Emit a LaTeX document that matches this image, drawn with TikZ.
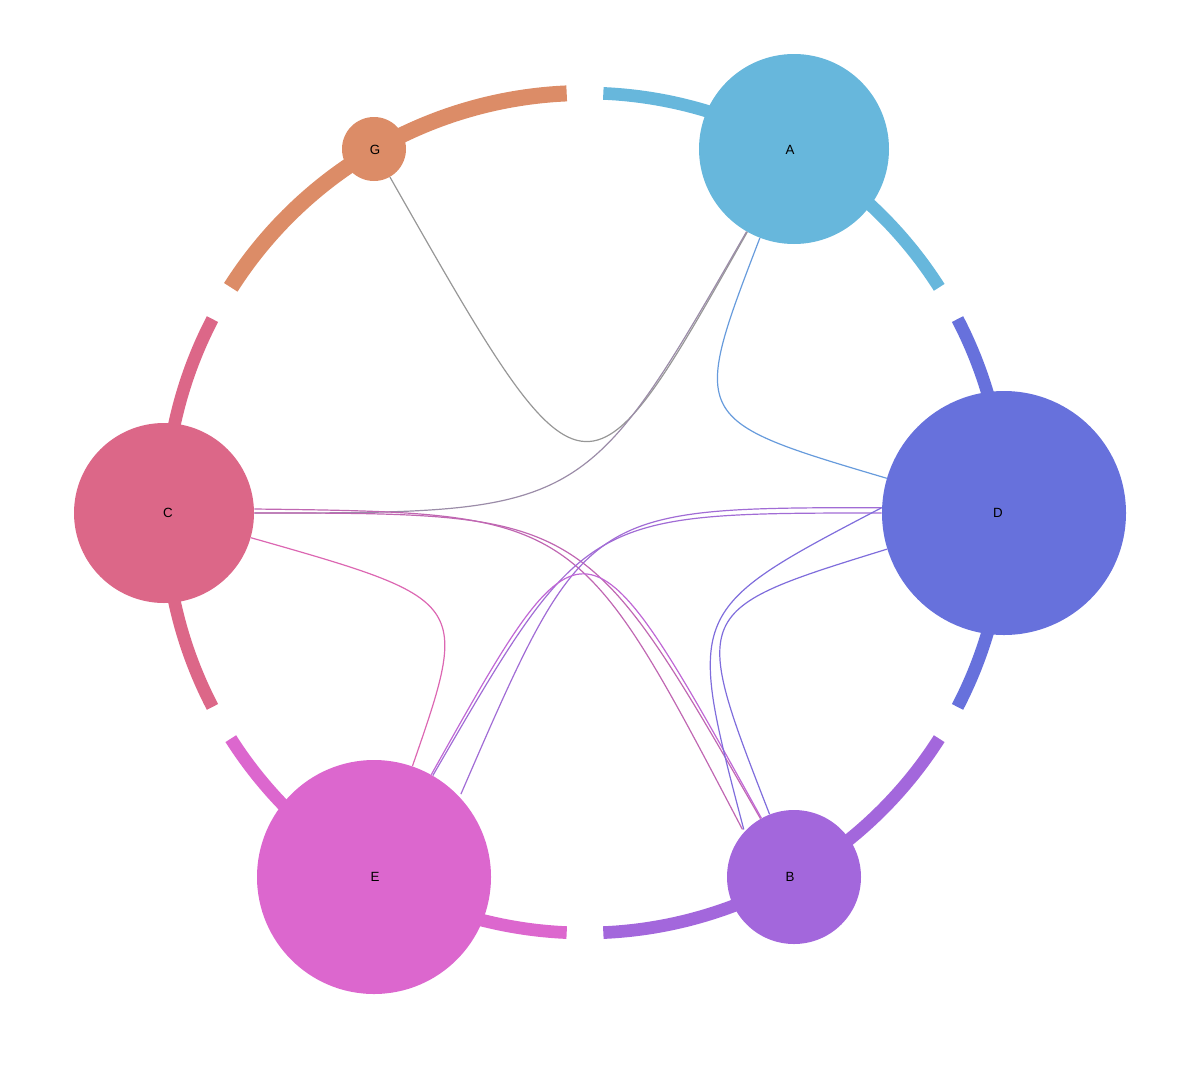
\documentclass[tikz,border=0pt]{standalone}
\usepackage{fontspec}
\setmainfont{Liberation Sans}
\definecolor{cA}{HTML}{67B7DC}
\definecolor{cD}{HTML}{6771DC}
\definecolor{cB}{HTML}{A367DC}
\definecolor{cE}{HTML}{DC67CE}
\definecolor{cC}{HTML}{DC6788}
\definecolor{cG}{HTML}{DC8C67}
\begin{document}
\begin{tikzpicture}[x=0.75pt,y=-0.75pt,
  nd/.style={circle,inner sep=0pt,font=\fontsize{10}{12}\selectfont},
  rib/.style={line width=9.5pt},
  chord/.style={line width=0.9pt}]
\useasboundingbox (0,0) rectangle (1199,1089);
\coordinate (O) at (585,513);
% ribbons (theta = -visual angle)
\draw[rib,cA] (O) ++(-87.5:420) arc[start angle=-87.5,end angle=-32.5,radius=420];
\draw[rib,cD] (O) ++(-27.5:420) arc[start angle=-27.5,end angle=27.5,radius=420];
\draw[rib,cB] (O) ++(32.5:420) arc[start angle=32.5,end angle=87.5,radius=420];
\draw[rib,cE] (O) ++(92.5:420) arc[start angle=92.5,end angle=147.5,radius=420];
\draw[rib,cC] (O) ++(152.5:420) arc[start angle=152.5,end angle=207.5,radius=420];
\draw[line width=12pt,cG] (O) ++(212.5:420) arc[start angle=212.5,end angle=267.5,radius=420];
% nodes
\node[nd,fill=cA,minimum size=142.5pt] (A) at (794,149) {};
\node[nd,fill=cD,minimum size=183pt] (D) at (1004,513) {};
\node[nd,fill=cB,minimum size=100.5pt] (B) at (794,877) {};
\node[nd,fill=cE,minimum size=175.5pt] (E) at (374,877) {};
\node[nd,fill=cC,minimum size=135pt] (C) at (164,513) {};
\node[nd,fill=cG,minimum size=48pt] (G) at (374,149) {};
\node at (790,150) {A};
\node at (998,513) {D};
\node at (790,877) {B};
\node at (375,877) {E};
\node at (168,513) {C};
\node at (375,150) {G};
% chords
\coordinate (cGA) at (585,520);
\coordinate (cAD) at (690,420);
\coordinate (cDB) at (690,610);
\coordinate (cCE) at (470,600);
\coordinate (cEB) at (585,500);
\draw[chord,cG!50!cA!70!gray] (G) .. controls (cGA) .. (A);
\draw[chord,cA!50!cC!80!gray] (A) .. controls (O) .. (C);
\draw[chord,cA!60!cD] (A) .. controls (cAD) .. (D);
\draw[chord,cC!40!cE] (C) .. controls (cCE) .. (E);
\draw[chord,cC!50!cB] (C) .. controls (O) .. (B);
\draw[chord,cC!50!cB] ([yshift=3]C.east) .. controls ([xshift=-6]O) .. ([xshift=-3]B.north west);
\draw[chord,cD!50!cE] (D) .. controls (O) .. (E);
\draw[chord,cD!50!cE] ([yshift=4]D.west) .. controls ([yshift=4]O) .. ([xshift=3]E.north east);
\draw[chord,cE!50!cB] (E) .. controls (cEB) .. (B);
\draw[chord,cD!60!cB] (D) .. controls (cDB) .. (B);
\draw[chord,cD!60!cB] ([yshift=4]D.west) .. controls ([xshift=-3]cDB) .. ([xshift=-2]B.north west);
\end{tikzpicture}
\end{document}
